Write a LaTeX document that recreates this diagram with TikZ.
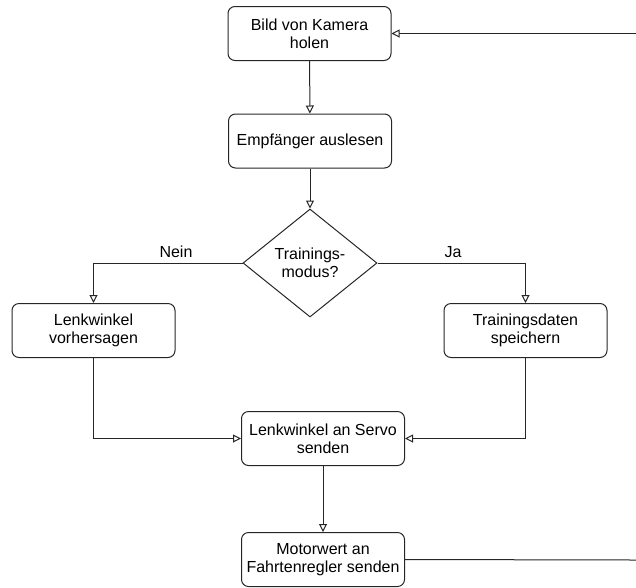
\documentclass[tikz,border=0pt]{standalone}
\usepackage{fontspec}
\setmainfont{Liberation Sans}
\usetikzlibrary{arrows.meta,shapes.geometric}
\begin{document}
\begin{tikzpicture}[x=1pt,y=-1pt,
  every node/.style={font=\fontsize{16}{18}\selectfont},
  procbox/.style={draw=black!85, line width=1pt, rounded corners=7pt, minimum width=163pt, minimum height=54pt, align=center, inner sep=2pt},
  decide/.style={draw=black!85, line width=1pt, shape=diamond, minimum width=134pt, minimum height=108pt, inner sep=0pt},
  conn/.style={draw=black!85, line width=1pt, -{Triangle[open, length=8pt, width=8pt]}},
  plain/.style={draw=black!85, line width=1pt},
  lbl/.style={inner sep=0pt}]
\useasboundingbox (0,0) rectangle (636,587);
\node[procbox] (cam) at (309.5,33.5) {Bild von Kamera\\holen};
\node[procbox] (emp) at (310,141) {Empfänger auslesen};
\node[decide] (dec) at (310,263) {};
\node[align=center] (dect) at (310,263) {Trainings-\\modus?};
\node[procbox] (lw) at (93.5,330.5) {Lenkwinkel\\vorhersagen};
\node[procbox] (td) at (525.5,330.5) {Trainingsdaten\\speichern};
\node[procbox] (servo) at (323,438.5) {Lenkwinkel an Servo\\senden};
\node[procbox] (motor) at (323,559.5) {Motorwert an\\Fahrtenregler senden};
\node[lbl] (nein) at (176,252) {Nein};
\node[lbl] (ja) at (453,252) {Ja};
\coordinate (topright) at (636,33.5);
\coordinate (botright) at (636,560);
\draw[conn] (cam) -- (emp);
\draw[conn] (emp) -- (dec.north);
\draw[conn] (dec.west) -| (lw.north);
\draw[conn] (dec.east) -| (td.north);
\draw[conn] (lw.south) |- (servo.west);
\draw[conn] (td.south) |- (servo.east);
\draw[conn] (servo) -- (motor);
\draw[plain] (motor.east) -- (botright);
\draw[conn] (topright) -- (cam.east);
\end{tikzpicture}
\end{document}
